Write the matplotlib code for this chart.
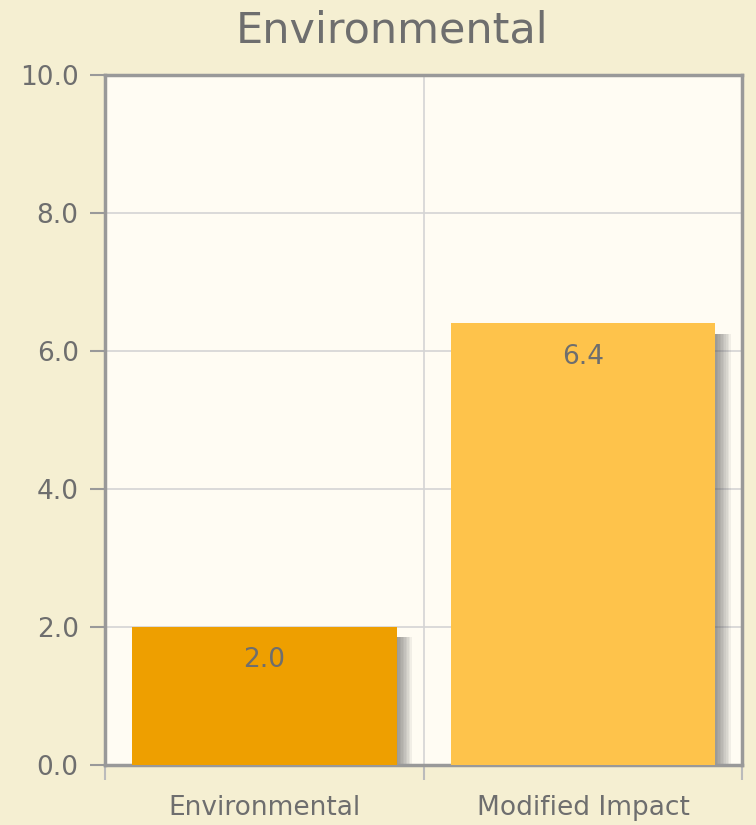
import matplotlib.pyplot as plt
import numpy as np

categories = ["Environmental", "Modified Impact"]
values = [2.0, 6.4]
bar_colors = ["#EE9F00", "#FEC34B"]
y_ticks = [0, 2, 4, 6, 8, 10]

fig = plt.figure(figsize=(7.56, 8.25), dpi=100)
fig.patch.set_facecolor("#F5EFD2")
ax = fig.add_axes([0.139, 0.073, 0.843, 0.836])
ax.set_facecolor("#FFFCF3")

x = np.arange(len(categories))
width = 0.83

# soft drop shadow behind each bar
for xi, v in zip(x, values):
    for k in range(10):
        off = 0.0048 * (k + 1)
        ax.bar(xi + off, v - 0.15, width, bottom=0, color="#555555",
               alpha=0.08, zorder=2, linewidth=0)

bars = ax.bar(x, values, width, color=bar_colors, zorder=3, linewidth=0)

txt = "#6E6E6E"
for xi, v in zip(x, values):
    ax.annotate(f"{v:.1f}", (xi, v), xytext=(0, -24), textcoords="offset points",
                ha="center", va="center", fontsize=19, color=txt, zorder=4)

ax.set_xlim(-0.5, 1.5)
ax.set_ylim(0, 10)
ax.set_yticks(y_ticks)
ax.set_yticklabels([f"{t:.1f}" for t in y_ticks])
ax.set_xticks([-0.5, 0.5, 1.5])
ax.set_xticklabels([])
ax.set_xticks(x, minor=True)
ax.set_xticklabels(categories, minor=True)

ax.grid(True, which="major", color="#D4D4D4", linewidth=1.2, zorder=1)
ax.set_axisbelow(True)

ax.tick_params(axis="y", which="major", length=11, width=1.5, color="#999999",
               labelsize=19, labelcolor=txt, pad=8)
ax.tick_params(axis="x", which="major", length=11, width=1.5, color="#BBBBBB")
ax.tick_params(axis="x", which="minor", length=0, labelsize=19,
               labelcolor=txt, pad=22)

for s in ax.spines.values():
    s.set_color("#999999")
    s.set_linewidth(2.5)

fig.text(0.518, 0.963, "Environmental", ha="center", va="center",
         fontsize=31, color=txt)

plt.savefig("out.png", dpi=100, facecolor=fig.get_facecolor())
